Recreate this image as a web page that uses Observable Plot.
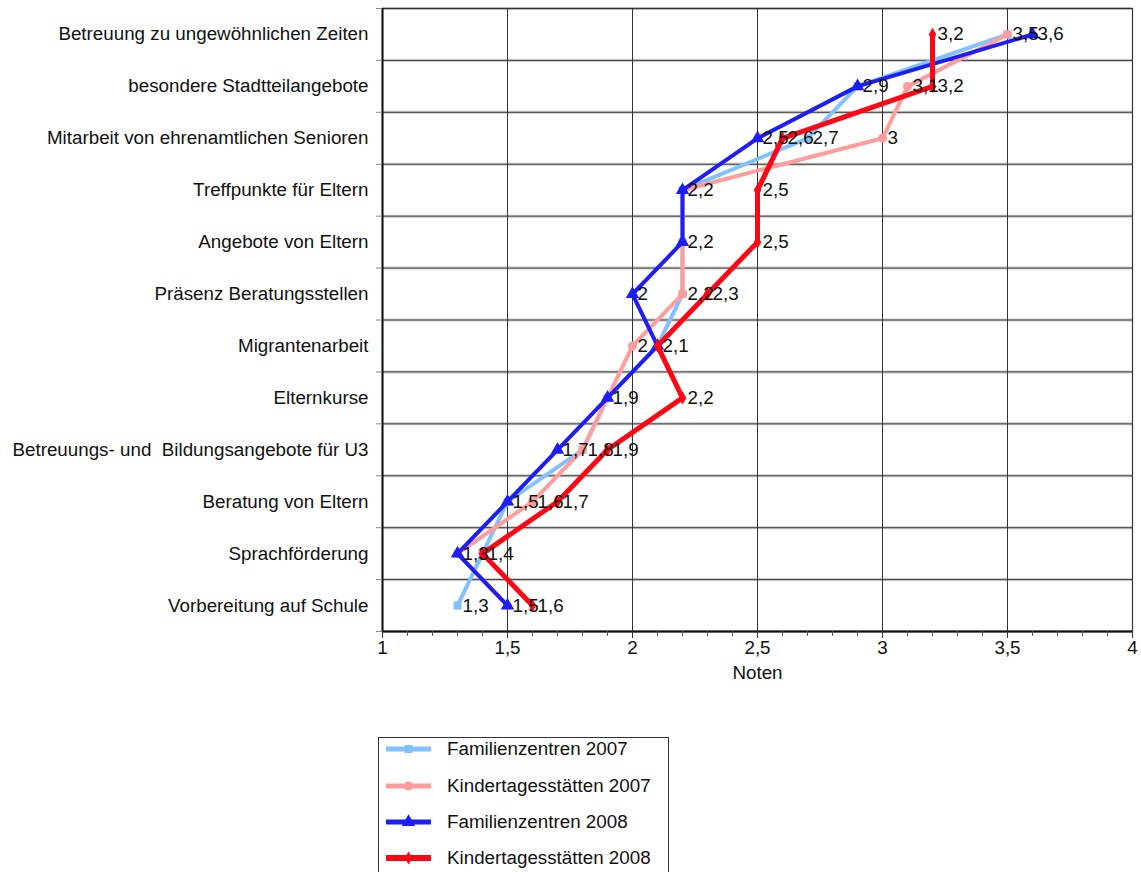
<!DOCTYPE html>
<html>
<head>
<meta charset="utf-8">
<script src="https://cdn.jsdelivr.net/npm/d3@7"></script>
<script src="https://cdn.jsdelivr.net/npm/@observablehq/plot@0.6"></script>
<style>
  html, body { margin: 0; padding: 0; background: #fff; }
  #chart { position: relative; width: 1141px; height: 872px; overflow: hidden;
           font-family: "Liberation Sans", Arial, Helvetica, sans-serif; color: #111; }
  #legend { position: absolute; left: 378px; top: 737px; width: 291px; height: 160px;
            border: 1px solid #333; box-sizing: border-box; background: #fff; }
  .item { position: absolute; left: 0; height: 22px; }
  .item svg { position: absolute; left: 6px; top: 1px; }
  .item span { position: absolute; left: 68px; top: 0; font-size: 18.8px; line-height: 22px; white-space: nowrap; }
</style>
</head>
<body>
<div id="chart"></div>
<script>
// Angebote (von oben nach unten)
const categories = [
  "Betreuung zu ungewöhnlichen Zeiten",
  "besondere Stadtteilangebote",
  "Mitarbeit von ehrenamtlichen Senioren",
  "Treffpunkte für Eltern",
  "Angebote von Eltern",
  "Präsenz Beratungsstellen",
  "Migrantenarbeit",
  "Elternkurse",
  "Betreuungs- und  Bildungsangebote für U3",
  "Beratung von Eltern",
  "Sprachförderung",
  "Vorbereitung auf Schule"
];

// Durchschnittsnoten je Angebot
const familienzentren2007     = [3.5, 2.9, 2.7, 2.2, 2.2, 2.2, 2.1, 1.9, 1.8, 1.5, 1.4, 1.3];
const kindertagesstaetten2007 = [3.5, 3.1, 3.0, 2.2, 2.2, 2.2, 2.0, 1.9, 1.8, 1.6, 1.3, 1.5];
const familienzentren2008     = [3.6, 2.9, 2.5, 2.2, 2.2, 2.0, 2.1, 1.9, 1.7, 1.5, 1.3, 1.5];
const kindertagesstaetten2008 = [3.2, 3.2, 2.6, 2.5, 2.5, 2.3, 2.1, 2.2, 1.9, 1.7, 1.4, 1.6];

const seriesNames = ["Familienzentren 2007", "Kindertagesstätten 2007", "Familienzentren 2008", "Kindertagesstätten 2008"];
const xTicks = [1, 1.5, 2, 2.5, 3, 3.5, 4];

const FONT = 18.8;

const series = [
  {name: seriesNames[0], values: familienzentren2007,     color: "#82c1ff", width: 4, symbol: "square",   r: 4.5},
  {name: seriesNames[1], values: kindertagesstaetten2007, color: "#ff9c9c", width: 4, symbol: "circle",   r: 4.5},
  {name: seriesNames[2], values: familienzentren2008,     color: "#1d1df5", width: 4, symbol: "triangle", r: 5},
  {name: seriesNames[3], values: kindertagesstaetten2008, color: "#ff0614", width: 5, symbol: "diamond",  r: 4}
];

const rows = s => s.values.map((v, i) => ({i, v, name: s.name}));
const fmt = v => String(v).replace(".", ",");

// one value label per distinct position (identical values in a row share a label)
const labelRows = [];
const seen = new Set();
for (const s of series) {
  for (const d of rows(s)) {
    const key = d.i + "|" + d.v;
    if (!seen.has(key)) { seen.add(key); labelRows.push(d); }
  }
}

const boundaries = d3.range(-0.5, categories.length, 1);
const minorTicks = d3.range(10, 41).map(d => d / 10);

const marks = [
  // horizontal band separators
  Plot.ruleY(boundaries, {stroke: "#c8c8c8", strokeWidth: 3}),
  Plot.ruleY(boundaries, {stroke: "#444", strokeWidth: 1}),
  // vertical grid
  Plot.ruleX([1.5, 2, 2.5, 3, 3.5], {stroke: "#333", strokeWidth: 1}),
  Plot.frame({stroke: "#333", strokeWidth: 1.2}),
  Plot.ruleX([1], {stroke: "#111", strokeWidth: 2}),
  Plot.ruleY([11.5], {stroke: "#111", strokeWidth: 2}),
  // axes
  Plot.axisY(boundaries, {tickSize: 6, tickFormat: () => "", stroke: "#888", label: null}),
  Plot.axisY(d3.range(categories.length), {tickSize: 0, tickPadding: 14, tickFormat: i => categories[i], fontSize: FONT, fill: "#111", label: null}),
  Plot.axisX(minorTicks, {tickSize: 5, tickFormat: () => "", stroke: "#555", label: null}),
  Plot.axisX(xTicks, {tickSize: 7, tickPadding: 2, tickFormat: fmt, fontSize: FONT, fill: "#111", stroke: "#333", label: null}),
  Plot.text(["Noten"], {frameAnchor: "bottom", dy: 47, fontSize: FONT, fill: "#111"})
];

for (const s of series) {
  marks.push(Plot.line(rows(s), {x: "v", y: "i", stroke: s.color, strokeWidth: s.width, strokeLinejoin: "miter"}));
  marks.push(Plot.dot(rows(s), {x: "v", y: "i", symbol: s.symbol, r: s.r, fill: s.color, stroke: "none"}));
}
marks.push(Plot.text(labelRows, {x: "v", y: "i", text: d => fmt(d.v), dx: 5, textAnchor: "start", fontSize: FONT, fill: "#111"}));

const chart = Plot.plot({
  width: 1141,
  height: 700,
  marginLeft: 382,
  marginRight: 9,
  marginTop: 8,
  marginBottom: 69,
  style: {fontFamily: "'Liberation Sans', Arial, Helvetica, sans-serif", fontSize: FONT + "px", color: "#111", background: "#fff"},
  x: {domain: [1, 4]},
  y: {domain: [-0.5, categories.length - 0.5], reverse: true},
  marks
});

const root = document.getElementById("chart");
root.appendChild(chart);

// legend below the chart
const legend = d3.select(root).append("div").attr("id", "legend");
const itemTops = [0, 37, 73, 109];
series.forEach((s, k) => {
  const item = legend.append("div").attr("class", "item").style("top", itemTops[k] + "px").style("width", "285px");
  const svg = item.append("svg").attr("width", 48).attr("height", 20);
  svg.append("line").attr("x1", 1).attr("x2", 46).attr("y1", 10).attr("y2", 10)
    .attr("stroke", s.color).attr("stroke-width", s.width + 1);
  const sym = {square: d3.symbolSquare, circle: d3.symbolCircle, triangle: d3.symbolTriangle, diamond: d3.symbolDiamond}[s.symbol];
  svg.append("path").attr("transform", "translate(23.5,10)")
    .attr("d", d3.symbol(sym, Math.PI * s.r * s.r)()).attr("fill", s.color);
  item.append("span").text(s.name);
});
</script>
</body>
</html>
